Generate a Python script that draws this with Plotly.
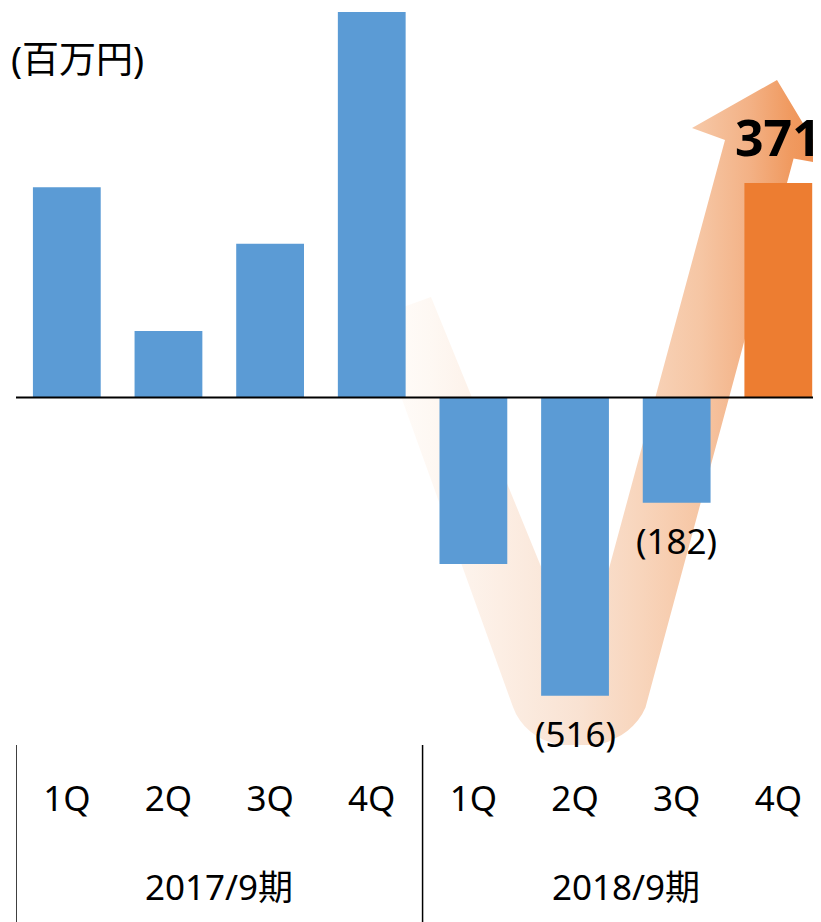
import numpy as np
import plotly.graph_objects as go

# ---------------- data ----------------
periods = ["2017/9期", "2018/9期"]
quarters = ["1Q", "2Q", "3Q", "4Q"]
values = [364, 115, 266, 667, -288, -516, -182, 371]   # 百万円
labelled = [5, 6, 7]                                    # bars carrying value labels
unit_label = "(百万円)"
bar_colors = ["#5B9BD5"] * 7 + ["#ED7D31"]

# ---------------- layout constants ----------------
OFF = 8                      # page body margin in the browser
W, H = 821 - OFF, 922 - OFF  # figure size so it fits the window
ML = 16 - OFF
PLOT_BOTTOM_PAGE = 745
MB = (922 - OFF) - (PLOT_BOTTOM_PAGE - OFF)
PLOT_H = H - MB
ZERO_PAGE = 397.5
VAL_PX = 0.5779
CAT_PX = 805 / 7.92
X_RANGE = [-0.5, 7.42]
Y_RANGE = [-(PLOT_BOTTOM_PAGE - ZERO_PAGE) / VAL_PX, (ZERO_PAGE - OFF) / VAL_PX]
FONT = "Noto Sans, Noto Sans CJK JP, sans-serif"
FS = 35


def px2x(px):          # page pixel -> x data
    return (px - 16) / CAT_PX + X_RANGE[0]


def py2y(py):          # page pixel -> y data
    return (ZERO_PAGE - py) / VAL_PX


# ---------------- decorative U-turn arrow (page-pixel geometry) ----------------
def cubic(p0, c1, c2, p3, n=24):
    t = np.linspace(0, 1, n)[:, None]
    p0, c1, c2, p3 = map(np.array, (p0, c1, c2, p3))
    return ((1 - t) ** 3) * p0 + 3 * ((1 - t) ** 2) * t * c1 + 3 * (1 - t) * t ** 2 * c2 + t ** 3 * p3

outline = [(431, 297), (582.2, 667.6), (725, 140), (692, 128), (777, 80),
           (828, 165), (793.6, 158.4), (648, 700)]
k = 61
bottom = cubic((648, 700), (648 - 0.2596 * k, 700 + 0.9657 * k),
               (513 + 0.3395 * k, 707 + 0.9406 * k), (513, 707))
outline += [tuple(p) for p in bottom[1:]]
outline += [(372.7, 318), (431, 297)]
ax_x = [px2x(p[0]) for p in outline]
ax_y = [py2y(p[1]) for p in outline]

g0, g1 = 380, 830
stops = [(380, "#FFFDFB"), (430, "#FEF8F3"), (500, "#FCEEE4"), (580, "#F9E2D2"),
         (640, "#F8D5BC"), (700, "#F6C6A4"), (750, "#F3B185"), (790, "#F09A60"),
         (830, "#EE8C4C")]
cscale = [[(p - g0) / (g1 - g0), c] for p, c in stops]

fig = go.Figure()
fig.add_trace(go.Scatter(
    x=ax_x, y=ax_y, mode="lines", line=dict(width=0), fill="toself",
    fillgradient=dict(type="horizontal", colorscale=cscale,
                      start=px2x(g0), stop=px2x(g1)),
    hoverinfo="skip", showlegend=False, xaxis="x", yaxis="y"))

# ---------------- bars (overlay axes so they sit above the arrow) ----------------
fig.add_trace(go.Bar(
    x=list(range(len(values))), y=values, width=0.667,
    marker=dict(color=bar_colors, line=dict(width=0)),
    showlegend=False, xaxis="x2", yaxis="y2"))

annotations = []
for i in labelled:
    v = values[i]
    if v < 0:
        annotations.append(dict(x=i, y=v, xref="x", yref="y", text=f"({abs(v)})",
                                showarrow=False, yanchor="middle", yshift=-38,
                                font=dict(size=FS, color="black", family=FONT)))
    else:
        annotations.append(dict(x=i, y=v, xref="x", yref="y", text=f"<b>{v}</b>",
                                showarrow=False, yanchor="middle", yshift=46,
                                font=dict(size=50, color="black", family=FONT)))

for j, p in enumerate(periods):
    annotations.append(dict(x=1.5 + 4 * j, y=0, xref="x", yref="paper", text=p,
                            showarrow=False, yanchor="middle", yshift=-141,
                            font=dict(size=FS, color="black", family=FONT)))

annotations.append(dict(x=0, y=1, xref="paper", yref="paper", text=unit_label,
                        showarrow=False, xanchor="left", yanchor="middle",
                        xshift=-7, yshift=-50,
                        font=dict(size=37, color="black", family=FONT)))

shapes = [dict(type="line", xref="paper", yref="y", x0=0, x1=1, y0=0, y1=0,
               line=dict(color="black", width=2), layer="above")]
for xb in (-0.5, 3.5):
    shapes.append(dict(type="line", xref="x", yref="paper", x0=xb, x1=xb,
                       y0=0, y1=-0.26, line=dict(color="black", width=1.5)))

fig.update_layout(
    width=W, height=H, autosize=False,
    margin=dict(l=ML, r=0, t=0, b=MB, pad=0),
    paper_bgcolor="white", plot_bgcolor="white",
    font=dict(family=FONT, color="black"),
    showlegend=False,
    xaxis=dict(range=X_RANGE, tickvals=list(range(8)), ticktext=quarters * 2,
               showgrid=False, zeroline=False, showline=False,
               ticks="outside", ticklen=23, tickcolor="rgba(0,0,0,0)",
               tickfont=dict(size=FS, color="black", family=FONT), fixedrange=True),
    yaxis=dict(range=Y_RANGE, visible=False, showgrid=False, zeroline=False,
               fixedrange=True),
    xaxis2=dict(range=X_RANGE, overlaying="x", visible=False, showgrid=False,
                zeroline=False),
    yaxis2=dict(range=Y_RANGE, overlaying="y", visible=False, showgrid=False,
                zeroline=False),
    annotations=annotations,
    shapes=shapes,
)

fig.write_html("out.html")
